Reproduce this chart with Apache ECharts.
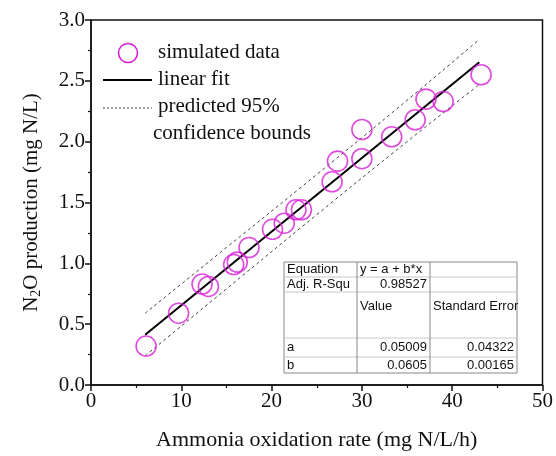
<!DOCTYPE html>
<html>
<head>
<meta charset="utf-8">
<script src="https://cdn.jsdelivr.net/npm/echarts@6/dist/echarts.min.js"></script>
<style>html,body{margin:0;padding:0;background:#fff}#c{width:556px;height:456px}</style>
</head>
<body>
<div id="c"></div>
<script>
// Data
const simX = [6.1, 9.7, 12.3, 13.0, 15.8, 16.2, 17.5, 20.1, 21.4, 22.7, 23.3, 26.7, 27.3, 30.0, 30.0, 33.3, 35.9, 37.1, 39.0, 43.2];
const simY = [0.32, 0.59, 0.83, 0.81, 0.99, 1.01, 1.13, 1.28, 1.33, 1.44, 1.44, 1.67, 1.84, 1.86, 2.10, 2.04, 2.18, 2.35, 2.33, 2.55];
const fitX = [6, 43];
const fitY = [0.413, 2.652];
const boundX = [6, 15, 25, 35, 43];
const upperY = [0.59, 1.13, 1.73, 2.34, 2.84];
const lowerY = [0.24, 0.79, 1.40, 2.00, 2.47];
const xTicks = [0, 10, 20, 30, 40, 50];
const yTicks = [0.0, 0.5, 1.0, 1.5, 2.0, 2.5, 3.0];
const legendLabels = ['simulated data', 'linear fit', 'predicted 95%', 'confidence bounds'];
const tableRows = [
  ['Equation', 'y = a + b*x', ''],
  ['Adj. R-Squ', '0.98527', ''],
  ['', 'Value', 'Standard Error'],
  ['a', '0.05009', '0.04322'],
  ['b', '0.0605', '0.00165']
];

const serif = 'Liberation Serif';
const sans = 'Liberation Sans';
const magenta = '#d61fd6';

const zip = (a, b) => a.map((v, i) => [v, b[i]]);

const chart = echarts.init(document.getElementById('c'));

// table graphic
const tX = [284, 357, 430, 517];
const tY = [262, 277, 292, 338, 357, 373];
const tableEls = [];
tableEls.push({type: 'rect', shape: {x: tX[0], y: tY[0], width: tX[3] - tX[0], height: tY[5] - tY[0]},
  style: {fill: '#fff', stroke: '#888', lineWidth: 1}, z: 10});
for (let i = 1; i < tY.length - 1; i++) {
  tableEls.push({type: 'line', shape: {x1: tX[0], y1: tY[i], x2: tX[3], y2: tY[i]}, style: {stroke: '#c8c8c8', lineWidth: 1}, z: 11});
}
for (let j = 1; j < tX.length - 1; j++) {
  tableEls.push({type: 'line', shape: {x1: tX[j], y1: tY[0], x2: tX[j], y2: tY[5]}, style: {stroke: '#888', lineWidth: 1}, z: 11});
}
const rowTextY = [269.5, 284.5, 306, 347.5, 365];
tableRows.forEach((row, r) => {
  row.forEach((txt, c) => {
    if (!txt) return;
    const isNum = /^[0-9.]+$/.test(txt);
    tableEls.push({type: 'text', z: 12, style: {
      text: txt, x: isNum ? tX[c + 1] - 3 : tX[c] + 3, y: rowTextY[r],
      textAlign: isNum ? 'right' : 'left', textVerticalAlign: 'middle',
      font: '13px ' + sans, fill: '#111'}});
  });
});

// legend graphic
const legendEls = [
  {type: 'circle', shape: {cx: 128, cy: 53, r: 9.5}, style: {fill: 'none', stroke: magenta, lineWidth: 1.6}},
  {type: 'text', style: {text: legendLabels[0], x: 158, y: 52, textVerticalAlign: 'middle', font: '21px ' + serif, fill: '#111'}},
  {type: 'line', shape: {x1: 103, y1: 80, x2: 152, y2: 80}, style: {stroke: '#000', lineWidth: 2}},
  {type: 'text', style: {text: legendLabels[1], x: 158, y: 79, textVerticalAlign: 'middle', font: '21px ' + serif, fill: '#111'}},
  {type: 'line', shape: {x1: 103, y1: 108, x2: 152, y2: 108}, style: {stroke: '#444', lineWidth: 1, lineDash: [2, 2]}},
  {type: 'text', style: {text: legendLabels[2], x: 158, y: 106, textVerticalAlign: 'middle', font: '21px ' + serif, fill: '#111'}},
  {type: 'text', style: {text: legendLabels[3], x: 153, y: 133, textVerticalAlign: 'middle', font: '21px ' + serif, fill: '#111'}}
];

chart.setOption({
  animation: false,
  backgroundColor: '#fff',
  grid: {left: 91, right: 12, top: 20, bottom: 71, show: true, borderColor: '#111', borderWidth: 1.5, backgroundColor: 'transparent'},
  xAxis: {
    type: 'value', min: 0, max: 50, interval: 10,
    name: 'Ammonia oxidation rate (mg N/L/h)', nameLocation: 'middle', nameGap: 44,
    nameTextStyle: {fontFamily: serif, fontSize: 22, color: '#111'},
    axisLine: {show: true, lineStyle: {color: '#111', width: 1.5}},
    axisTick: {show: true, length: 6, lineStyle: {color: '#111', width: 1.5}},
    minorTick: {show: true, splitNumber: 2, length: 3, lineStyle: {color: '#111', width: 1.2}},
    axisLabel: {fontFamily: serif, fontSize: 21, color: '#111', margin: 6,
      formatter: v => xTicks.includes(v) ? String(v) : ''},
    splitLine: {show: false}
  },
  yAxis: {
    type: 'value', min: 0, max: 3, interval: 0.5,
    name: '{a|N}{s|2}{a|O production (mg N/L)}', nameLocation: 'middle', nameGap: 48,
    nameTextStyle: {fontFamily: serif, fontSize: 21, color: '#111',
      rich: {a: {fontFamily: serif, fontSize: 21, color: '#111'},
             s: {fontFamily: serif, fontSize: 14, color: '#111', padding: [10, 0, 0, 0]}}},
    axisLine: {show: true, lineStyle: {color: '#111', width: 1.5}},
    axisTick: {show: true, length: 6, lineStyle: {color: '#111', width: 1.5}},
    minorTick: {show: true, splitNumber: 2, length: 3, lineStyle: {color: '#111', width: 1.2}},
    axisLabel: {fontFamily: serif, fontSize: 21, color: '#111', margin: 6,
      formatter: v => { const t = yTicks.find(k => Math.abs(k - v) < 1e-9); return t === undefined ? '' : t.toFixed(1); }},
    splitLine: {show: false}
  },
  series: [
    {type: 'line', data: zip(boundX, upperY), smooth: true, symbol: 'none',
      lineStyle: {color: '#444', width: 1, type: [3, 3]}, z: 2},
    {type: 'line', data: zip(boundX, lowerY), smooth: true, symbol: 'none',
      lineStyle: {color: '#444', width: 1, type: [3, 3]}, z: 2},
    {type: 'line', data: zip(fitX, fitY), symbol: 'none',
      lineStyle: {color: '#000', width: 2}, z: 3},
    {type: 'scatter', data: zip(simX, simY), symbol: 'circle', symbolSize: 20,
      itemStyle: {color: 'transparent', borderColor: magenta, borderWidth: 1.6}, z: 4}
  ],
  graphic: legendEls.concat(tableEls)
});
</script>
</body>
</html>
